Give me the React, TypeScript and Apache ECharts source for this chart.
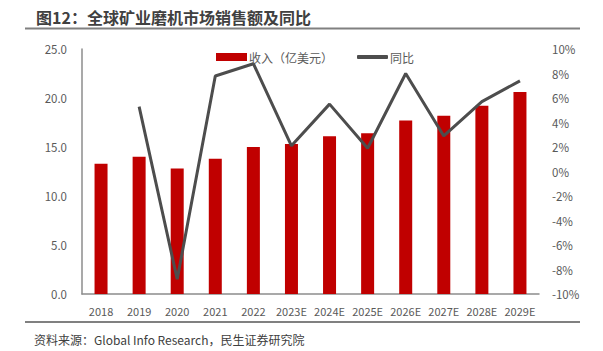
import React, { useEffect, useRef } from "react";
import * as echarts from "echarts";

const categories = ["2018", "2019", "2020", "2021", "2022", "2023E", "2024E", "2025E", "2026E", "2027E", "2028E", "2029E"];
const revenue = [13.3, 14.0, 12.8, 13.8, 15.0, 15.3, 16.1, 16.4, 17.7, 18.2, 19.2, 20.6];
const yoy: (number | null)[] = [null, 5.3, -8.8, 7.8, 8.8, 2.1, 5.5, 1.9, 8.0, 2.9, 5.7, 7.4];
const titleText = "图12：全球矿业磨机市场销售额及同比";
const sourceText = "资料来源：Global Info Research，民生证券研究院";
const barName = "收入（亿美元）";
const lineName = "同比";

const FONT = "'Noto Sans CJK SC', 'Noto Sans', sans-serif";

export default function App() {
  const ref = useRef<HTMLDivElement>(null);
  useEffect(() => {
    if (!ref.current) return;
    const chart = echarts.init(ref.current, undefined, { renderer: "svg" });
    chart.setOption({
      animation: false,
      textStyle: { fontFamily: FONT },
      grid: { left: 82, right: 64, top: 49, bottom: 57, containLabel: false },
      legend: [
        {
          left: 211,
          top: 46,
          itemWidth: 31,
          itemHeight: 8,
          textStyle: { color: "#595959", fontSize: 12, padding: [0, 0, 0, -3] },
          data: [{ name: barName, icon: "rect" }],
        },
        {
          left: 352,
          top: 46,
          itemWidth: 31,
          itemHeight: 4,
          textStyle: { color: "#595959", fontSize: 12, padding: [0, 0, 0, -3] },
          data: [{ name: lineName, icon: "roundRect", itemStyle: { color: "#4d4d4d" } }],
        },
      ],
      xAxis: {
        type: "category",
        data: categories,
        axisLine: { lineStyle: { color: "#8c8c8c", width: 1.5 } },
        axisTick: { show: false },
        axisLabel: { color: "#595959", fontSize: 11, margin: 11, interval: 0 },
      },
      yAxis: [
        {
          type: "value",
          min: 0,
          max: 25,
          interval: 5,
          axisLine: { show: true, lineStyle: { color: "#8c8c8c", width: 1.5 } },
          axisTick: { show: false },
          splitLine: { show: false },
          axisLabel: { color: "#595959", fontSize: 11.5, margin: 15, formatter: (v: number) => v.toFixed(1) },
        },
        {
          type: "value",
          min: -10,
          max: 10,
          interval: 2,
          axisLine: { show: false },
          axisTick: { show: false },
          splitLine: { show: false },
          axisLabel: { color: "#595959", fontSize: 11.5, margin: 13, formatter: "{value}%" },
        },
      ],
      series: [
        {
          name: barName,
          type: "bar",
          data: revenue,
          barWidth: 13,
          itemStyle: { color: "#c00000" },
        },
        {
          name: lineName,
          type: "line",
          yAxisIndex: 1,
          data: yoy,
          symbol: "none",
          lineStyle: { color: "#4d4d4d", width: 3 },
          itemStyle: { color: "#4d4d4d" },
        },
      ],
      graphic: [
        {
          type: "text",
          left: 36,
          top: 9,
          style: { text: titleText, fill: "#404040", font: `bold 16px ${FONT}` },
        },
        {
          type: "line",
          shape: { x1: 25, y1: 28.5, x2: 580, y2: 28.5 },
          style: { stroke: "#808080", lineWidth: 2 },
        },
        {
          type: "line",
          shape: { x1: 25, y1: 322, x2: 580, y2: 322 },
          style: { stroke: "#808080", lineWidth: 2 },
        },
        {
          type: "text",
          left: 34,
          top: 333,
          style: { text: sourceText, fill: "#404040", font: `12px ${FONT}` },
        },
      ],
    });
    return () => chart.dispose();
  }, []);
  return <div ref={ref} style={{ position: "absolute", left: 0, top: 0, width: 603, height: 351 }} />;
}
